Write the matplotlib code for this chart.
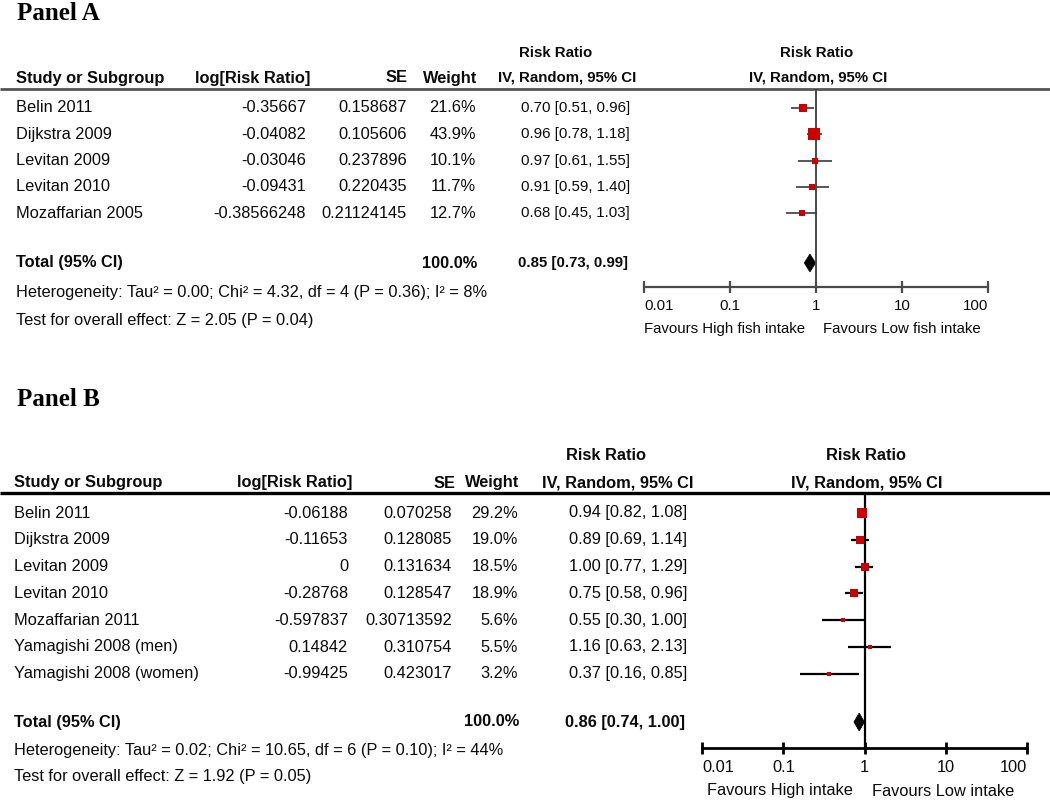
import matplotlib
matplotlib.use('Agg')
import matplotlib.pyplot as plt
from matplotlib.patches import Polygon
from matplotlib.ticker import NullLocator, FixedLocator

# ---------------- data ----------------
# Panel A
a_studies = ["Belin 2011", "Dijkstra 2009", "Levitan 2009", "Levitan 2010", "Mozaffarian 2005"]
a_logrr = ["-0.35667", "-0.04082", "-0.03046", "-0.09431", "-0.38566248"]
a_se = ["0.158687", "0.105606", "0.237896", "0.220435", "0.21124145"]
a_weight = [21.6, 43.9, 10.1, 11.7, 12.7]
a_rr = [0.70, 0.96, 0.97, 0.91, 0.68]
a_lo = [0.51, 0.78, 0.61, 0.59, 0.45]
a_hi = [0.96, 1.18, 1.55, 1.40, 1.03]
a_total = (0.85, 0.73, 0.99)
a_het = "Heterogeneity: Tau² = 0.00; Chi² = 4.32, df = 4 (P = 0.36); I² = 8%"
a_test = "Test for overall effect: Z = 2.05 (P = 0.04)"
a_fav = ("Favours High fish intake", "Favours Low fish intake")

# Panel B
b_studies = ["Belin 2011", "Dijkstra 2009", "Levitan 2009", "Levitan 2010",
             "Mozaffarian 2011", "Yamagishi 2008 (men)", "Yamagishi 2008 (women)"]
b_logrr = ["-0.06188", "-0.11653", "0", "-0.28768", "-0.597837", "0.14842", "-0.99425"]
b_se = ["0.070258", "0.128085", "0.131634", "0.128547", "0.30713592", "0.310754", "0.423017"]
b_weight = [29.2, 19.0, 18.5, 18.9, 5.6, 5.5, 3.2]
b_rr = [0.94, 0.89, 1.00, 0.75, 0.55, 1.16, 0.37]
b_lo = [0.82, 0.69, 0.77, 0.58, 0.30, 0.63, 0.16]
b_hi = [1.08, 1.14, 1.29, 0.96, 1.00, 2.13, 0.85]
b_total = (0.86, 0.74, 1.00)
b_het = "Heterogeneity: Tau² = 0.02; Chi² = 10.65, df = 6 (P = 0.10); I² = 44%"
b_test = "Test for overall effect: Z = 1.92 (P = 0.05)"
b_fav = ("Favours High intake", "Favours Low intake")

tick_vals = [0.01, 0.1, 1, 10, 100]
tick_labels = ["0.01", "0.1", "1", "10", "100"]

# ---------------- figure ----------------
W, H = 1050, 801
fig = plt.figure(figsize=(W / 100, H / 100), dpi=100)
bg = fig.add_axes([0, 0, 1, 1])
bg.set_xlim(0, W)
bg.set_ylim(H, 0)
bg.axis('off')

SANS = 'Liberation Sans'
FS = 11.8
RED = '#CC0000'
TXT = '#0a0a0a'


def txt(x, y, s, ha='left', bold=False, size=FS):
    bg.text(x, y, s, ha=ha, va='center', fontsize=size, family=SANS,
            fontweight='bold' if bold else 'normal', color=TXT)


def ci_label(r, l, h):
    return f"{r:.2f} [{l:.2f}, {h:.2f}]"


def panel(cfg):
    fr = cfg['fs_r']
    # title
    bg.text(17, cfg['title_y'], cfg['title'], ha='left', va='center', fontsize=18,
            family='Liberation Serif', fontweight='bold', color='#000000')
    # header row 1
    y1 = cfg['hdr1_y']
    txt(cfg['rr1_x'], y1, "Risk Ratio", ha='center', bold=True, size=fr)
    txt(cfg['rr2_x'], y1, "Risk Ratio", ha='center', bold=True, size=fr)
    # header row 2
    y2 = cfg['hdr2_y']
    txt(cfg['name_x'], y2, "Study or Subgroup", bold=True)
    txt(cfg['log_hx'], y2, "log[Risk Ratio]", ha='right', bold=True)
    txt(cfg['se_hx'], y2, "SE", ha='right', bold=True)
    txt(cfg['w_hx'], y2, "Weight", ha='right', bold=True)
    txt(cfg['ci1_x'], y2, "IV, Random, 95% CI", ha='center', bold=True, size=fr)
    txt(cfg['rr2_x'] + 1, y2, "IV, Random, 95% CI", ha='center', bold=True, size=fr)
    # header rule
    bg.plot([0, W], [cfg['rule_y']] * 2, color=cfg['rule_col'], lw=cfg['rule_lw'],
            solid_capstyle='butt')
    # rows
    for i, s in enumerate(cfg['studies']):
        y = cfg['row_y0'] + i * cfg['row_dy']
        txt(cfg['name_x'], y, s)
        txt(cfg['log_x'], y, cfg['logrr'][i], ha='right')
        txt(cfg['se_x'], y, cfg['se'][i], ha='right')
        txt(cfg['w_x'], y, f"{cfg['weight'][i]:.1f}%", ha='right')
        txt(cfg['ci_x'], y, ci_label(cfg['rr'][i], cfg['lo'][i], cfg['hi'][i]), ha='right',
            size=fr)
    # total
    ty = cfg['tot_y']
    txt(cfg['name_x'], ty, "Total (95% CI)", bold=True)
    txt(cfg['w_hx'], ty, "100.0%", ha='right', bold=True)
    txt(cfg['ci_x'] - 2, ty, ci_label(*cfg['total']), ha='right', bold=True, size=fr)
    txt(cfg['name_x'], cfg['het_y'], cfg['het'])
    txt(cfg['name_x'], cfg['test_y'], cfg['test'])

    # forest plot axes (y in pixel units)
    x0, x1 = cfg['ax_x0'], cfg['ax_x1']
    ytop, ybot = cfg['rule_y'], cfg['axis_y']
    ax = fig.add_axes([x0 / W, 1 - ybot / H, (x1 - x0) / W, (ybot - ytop) / H])
    ax.set_xscale('log')
    ax.set_xlim(0.01, 100)
    ax.set_ylim(ybot, ytop)
    ax.patch.set_alpha(0)
    for s in ['top', 'left', 'right']:
        ax.spines[s].set_visible(False)
    ax.spines['bottom'].set_color(cfg['line_col'])
    ax.spines['bottom'].set_linewidth(cfg['axis_lw'])
    ax.xaxis.set_major_locator(FixedLocator(tick_vals))
    ax.xaxis.set_minor_locator(NullLocator())
    ax.tick_params(axis='x', direction='inout', length=9, width=cfg['axis_lw'],
                   color=cfg['line_col'], labelbottom=False)
    ax.set_yticks([])
    ax.plot([1, 1], [ytop, ybot], color=cfg['line_col'], lw=cfg['vline_lw'],
            solid_capstyle='butt')
    for i in range(len(cfg['rr'])):
        y = cfg['row_y0'] + i * cfg['row_dy']
        ax.plot([cfg['lo'][i], cfg['hi'][i]], [y, y], color=cfg['ci_col'], lw=cfg['ci_lw'],
                solid_capstyle='butt')
        side_px = max(cfg['min_side'], cfg['sq_k'] * cfg['weight'][i] ** 0.5)
        ax.plot([cfg['rr'][i]], [y], marker='s', ms=side_px * 0.72, color=RED,
                mec=RED, mew=0, linestyle='none')
    r, l, h = cfg['total']
    dh = 9
    ax.add_patch(Polygon([(l, ty), (r, ty - dh), (h, ty), (r, ty + dh)], closed=True,
                         facecolor='black', edgecolor='black', lw=0.5))
    # tick labels
    for v, lab in zip(tick_vals, tick_labels):
        ha = 'left' if v == tick_vals[0] else ('right' if v == tick_vals[-1] else 'center')
        ax.text(v, cfg['tick_y'], lab, ha=ha, va='center', fontsize=fr, family=SANS,
                color=TXT, clip_on=False)
    # favours
    fy = cfg['fav_y']
    bg.text(cfg['fav_l_x'], fy, cfg['fav'][0], ha='right', va='center', fontsize=fr,
            family=SANS, color=TXT)
    bg.text(cfg['fav_r_x'], fy, cfg['fav'][1], ha='left', va='center', fontsize=fr,
            family=SANS, color=TXT)


cfg_a = dict(
    title="Panel A", title_y=13, fs_r=10.8,
    hdr1_y=53, hdr2_y=78, rr1_x=556, rr2_x=817, ci1_x=567,
    name_x=16, log_hx=310, se_hx=408, w_hx=477,
    log_x=306, se_x=407, w_x=476, ci_x=630,
    rule_y=89, rule_col='#555555', rule_lw=2.0,
    studies=a_studies, logrr=a_logrr, se=a_se, weight=a_weight,
    rr=a_rr, lo=a_lo, hi=a_hi, total=a_total,
    row_y0=108, row_dy=26.3, tot_y=263, het_y=293, test_y=321,
    het=a_het, test=a_test,
    ax_x0=644, ax_x1=988, axis_y=287,
    line_col='#4a4a4a', axis_lw=1.6, vline_lw=1.4, ci_col='#3a3a3a', ci_lw=1.2,
    sq_k=1.9, min_side=5.0,
    tick_y=306, fav_y=329, fav_l_x=805, fav_r_x=823, fav=a_fav,
)

cfg_b = dict(
    title="Panel B", title_y=400, fs_r=FS,
    hdr1_y=456, hdr2_y=483, rr1_x=606, rr2_x=866, ci1_x=618,
    name_x=14, log_hx=352, se_hx=456, w_hx=519,
    log_x=348, se_x=452, w_x=518, ci_x=687,
    rule_y=493, rule_col='#000000', rule_lw=2.4,
    studies=b_studies, logrr=b_logrr, se=b_se, weight=b_weight,
    rr=b_rr, lo=b_lo, hi=b_hi, total=b_total,
    row_y0=513, row_dy=26.8, tot_y=722, het_y=750, test_y=777,
    het=b_het, test=b_test,
    ax_x0=702, ax_x1=1027, axis_y=748,
    line_col='#000000', axis_lw=2.0, vline_lw=1.6, ci_col='#000000', ci_lw=1.6,
    sq_k=1.95, min_side=4.8,
    tick_y=768, fav_y=791, fav_l_x=853, fav_r_x=872, fav=b_fav,
)

panel(cfg_a)
panel(cfg_b)

fig.savefig('out.png', dpi=100)
